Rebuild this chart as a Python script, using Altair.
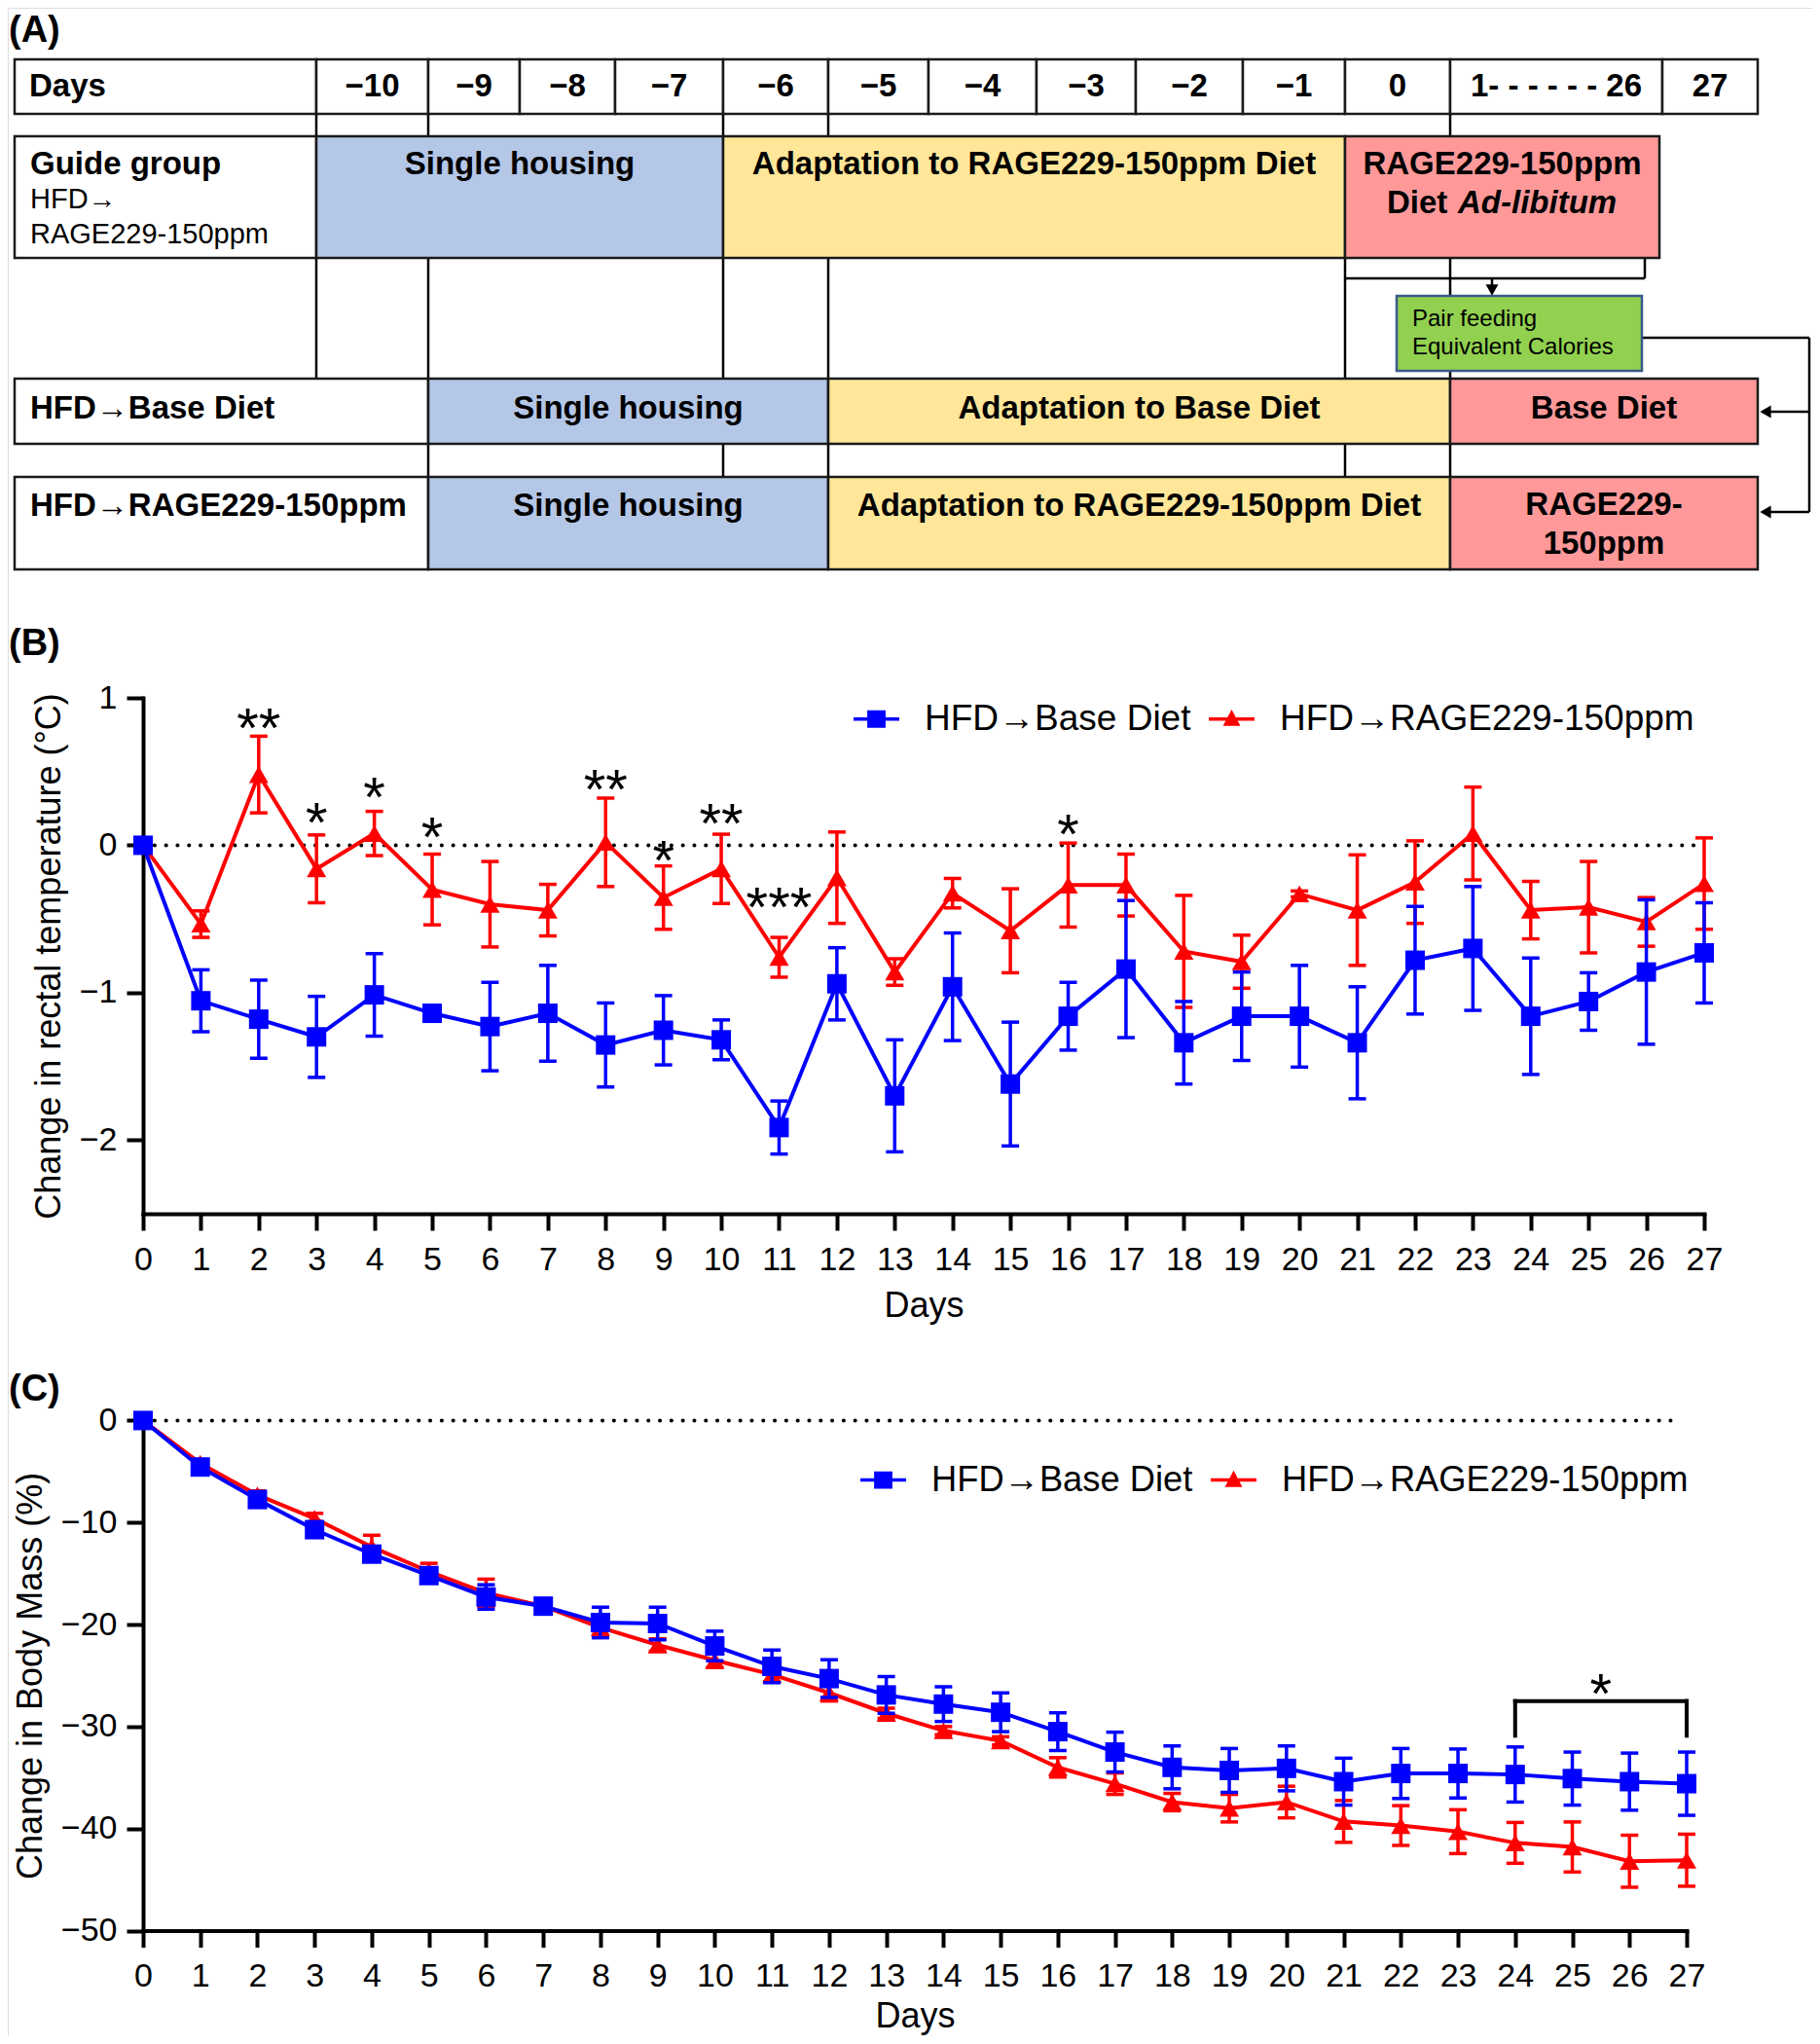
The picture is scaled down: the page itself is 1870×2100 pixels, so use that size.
import altair as alt
import pandas as pd

FONT = "Liberation Sans"
W, H = 1854, 2084          # whole drawing area (page minus 8px margins)
OX, OY = 8, 8              # page margin
BLUE = "#0000ff"
RED = "#ff0000"
GROUPS = ["HFD→Base Diet", "HFD→RAGE229-150ppm"]

days = list(range(28))

# ---------------- Panel B : change in rectal temperature (°C) ----------------
temp_base_mean = [0, -1.055, -1.18, -1.30, -1.015, -1.14, -1.23, -1.14, -1.355, -1.255,
                  -1.32, -1.915, -0.94, -1.70, -0.96, -1.62, -1.16, -0.84, -1.34, -1.16,
                  -1.16, -1.34, -0.78, -0.70, -1.16, -1.06, -0.86, -0.73]
temp_base_sem = [0, 0.21, 0.265, 0.275, 0.28, 0.04, 0.30, 0.325, 0.285, 0.235,
                 0.135, 0.18, 0.245, 0.38, 0.365, 0.42, 0.23, 0.465, 0.28, 0.30,
                 0.345, 0.38, 0.365, 0.42, 0.395, 0.195, 0.49, 0.34]
temp_rage_mean = [0, -0.535, 0.48, -0.16, 0.08, -0.30, -0.40, -0.44, 0.02, -0.355,
                  -0.16, -0.76, -0.22, -0.86, -0.325, -0.58, -0.27, -0.27, -0.72, -0.79,
                  -0.33, -0.44, -0.25, 0.08, -0.44, -0.42, -0.52, -0.26]
temp_rage_sem = [0, 0.09, 0.26, 0.23, 0.15, 0.24, 0.29, 0.175, 0.30, 0.215,
                 0.235, 0.135, 0.31, 0.09, 0.10, 0.285, 0.285, 0.21, 0.38, 0.18,
                 0.02, 0.375, 0.28, 0.315, 0.195, 0.31, 0.165, 0.31]
temp_star_day = [2, 3, 4, 5, 8, 9, 10, 11, 16]
temp_star_text = ["**", "*", "*", "*", "**", "*", "**", "***", "*"]
temp_star_y = [0.89, 0.25, 0.42, 0.145, 0.47, -0.01, 0.24, -0.33, 0.165]

# ---------------- Panel C : change in body mass (%) ----------------
mass_base_mean = [0, -4.56, -7.75, -10.7, -13.1, -15.2, -17.3, -18.2, -19.8, -19.9,
                  -22.1, -24.1, -25.3, -26.9, -27.8, -28.6, -30.5, -32.5, -34.0, -34.3,
                  -34.1, -35.4, -34.6, -34.6, -34.7, -35.1, -35.4, -35.6]
mass_base_sem = [0, 0.5, 0.5, 0.6, 0.6, 0.6, 1.2, 0.6, 1.5, 1.6,
                 1.45, 1.6, 1.85, 1.8, 1.7, 1.9, 1.85, 1.95, 2.1, 2.15,
                 2.2, 2.3, 2.45, 2.4, 2.7, 2.6, 2.8, 3.1]
mass_rage_mean = [0, -4.2, -7.3, -9.6, -12.4, -14.8, -16.9, -18.2, -20.3, -22.0,
                  -23.5, -24.9, -26.7, -28.7, -30.4, -31.4, -34.0, -35.6, -37.4, -38.0,
                  -37.4, -39.3, -39.7, -40.3, -41.4, -41.8, -43.2, -43.1]
mass_rage_sem = [0, 0.3, 0.4, 0.5, 1.15, 0.8, 1.35, 0.5, 0.8, 0.6,
                 0.7, 0.7, 0.8, 0.5, 0.4, 0.4, 0.95, 1.05, 0.85, 1.35,
                 1.55, 2.05, 1.95, 2.15, 2.0, 2.45, 2.55, 2.55]
mass_bracket_days = [24, 27]
mass_bracket_top = -27.5
mass_bracket_leg = -30.9
mass_star_day = [25.5]
mass_star_text = ["*"]
mass_star_y = [-25.4]

# ---------------- Panel A : schedule diagram ----------------
col_edges = [15, 325, 440, 534, 632, 743, 851, 954, 1065, 1167, 1277, 1382, 1490, 1708, 1806]
header_labels = ["Days", "−10", "−9", "−8", "−7", "−6", "−5", "−4", "−3", "−2", "−1",
                 "0", "1- - - - - - 26", "27"]
header_y = (61, 117)
guide_y = (140, 265)
base_y = (389, 456)
rage_y = (490, 585)
pair_box = (1435, 1687, 304, 381)

kind_names = ["label", "single", "adapt", "diet"]
kind_colors = ["#ffffff", "#b4c7e7", "#ffe699", "#ff9999"]


# =====================================================================
def long_table(bm, bs, rm, rs):
    rows = []
    for g, m, s in [(GROUPS[0], bm, bs), (GROUPS[1], rm, rs)]:
        for d, mm, ss in zip(days, m, s):
            rows.append(dict(day=d, group=g, mean=mm, lo=mm - ss, hi=mm + ss, sem=ss))
    return pd.DataFrame(rows)


SQ_PATH = "M-1,-0.075L1,-0.075L1,0.075L-1,0.075Z M-0.4,-0.38L0.4,-0.38L0.4,0.38L-0.4,0.38Z"
TRI_PATH = "M-1,-0.075L1,-0.075L1,0.075L-1,0.075Z M0,-0.42L0.38,0.3L-0.38,0.3Z"

AXIS_STYLE = dict(domainColor="black", domainWidth=4, domainCap="square",
                  tickColor="black", tickWidth=4, tickSize=17,
                  labelFont=FONT, labelFontSize=34, labelColor="black",
                  titleFont=FONT, titleFontSize=36, titleFontWeight="normal",
                  titleColor="black", grid=False, labelOverlap=False)


def series_panel(df, xs, ys, xaxis, yaxis, legend_xy, legend_fs, zero_x2, stars, extra=None):
    X = alt.X("day:Q", scale=xs, axis=xaxis)

    def Y(f):
        return alt.Y(f, scale=ys, axis=yaxis)

    layers = []
    zero_df = pd.DataFrame({"x0": [0], "x1": [zero_x2], "y0": [0]})
    layers.append(
        alt.Chart(zero_df).mark_rule(color="black", strokeWidth=4, strokeDash=[0.1, 11.7],
                                     strokeCap="round")
        .encode(x=alt.X("x0:Q", scale=xs, axis=xaxis), x2="x1:Q", y=Y("y0:Q"))
    )
    for g, col, shp in [(GROUPS[1], RED, "triangle-up"), (GROUPS[0], BLUE, "square")]:
        sub = alt.Chart(df).transform_filter(alt.datum.group == g)
        err = sub.transform_filter(alt.datum.sem > 0)
        layers.append(err.mark_rule(color=col, strokeWidth=3.5)
                      .encode(x=X, y=Y("lo:Q"), y2="hi:Q"))
        layers.append(err.transform_fold(["lo", "hi"], as_=["end", "v"])
                      .mark_tick(color=col, orient="horizontal", size=18, thickness=3.5, opacity=1)
                      .encode(x=X, y=Y("v:Q")))
        layers.append(sub.mark_line(color=col, strokeWidth=4).encode(x=X, y=Y("mean:Q")))
        layers.append(sub.mark_point(filled=True, shape=shp, size=400, color=col, opacity=1)
                      .encode(x=X, y=Y("mean:Q")))
    if extra is not None:
        layers.extend(extra)
    sdf = pd.DataFrame({"day": stars[0], "label": stars[1], "y": stars[2]})
    layers.append(alt.Chart(sdf).mark_text(font=FONT, fontSize=58, color="black",
                                           baseline="alphabetic", dy=34)
                  .encode(x=alt.X("day:Q", scale=xs, axis=xaxis), y=Y("y:Q"), text="label:N"))
    leg = alt.Legend(orient="none", legendX=legend_xy[0], legendY=legend_xy[1],
                     direction="horizontal", title=None, labelFont=FONT, labelFontSize=legend_fs,
                     labelColor="black", labelLimit=900, symbolSize=2209,
                     symbolStrokeWidth=0, labelOffset=26, columnPadding=18, padding=0,
                     symbolOpacity=1)
    layers.append(
        alt.Chart(df).transform_filter("false").mark_point(filled=True, size=2209, opacity=1)
        .encode(color=alt.Color("group:N", scale=alt.Scale(domain=GROUPS, range=[BLUE, RED]),
                                legend=leg),
                shape=alt.Shape("group:N", scale=alt.Scale(domain=GROUPS, range=[SQ_PATH, TRI_PATH]),
                                legend=leg))
    )
    return alt.layer(*layers)


# ---------------- Panel B ----------------
dfB = long_table(temp_base_mean, temp_base_sem, temp_rage_mean, temp_rage_sem)
xB = alt.Scale(domain=[0, 27], range=[147 - OX, 1751 - OX], nice=False, zero=False)
yB = alt.Scale(domain=[-2.5, 1], range=[1247 - OY, 717 - OY], nice=False, zero=False)
xaxB = alt.Axis(orient="bottom", offset=(1247 - OY) - H, values=days, title="Days",
                labelPadding=13, titlePadding=13, labelAngle=0, labelFlush=False, **AXIS_STYLE)
yaxB = alt.Axis(orient="left", offset=-(147 - OX), values=[1, 0, -1, -2], format="d",
                title="Change in rectal temperature (°C)", labelPadding=10, titlePadding=12,
                **AXIS_STYLE)
panelB = series_panel(dfB, xB, yB, xaxB, yaxB, (877 - OX, 715 - OY), 37, 26.9,
                      (temp_star_day, temp_star_text, temp_star_y))

# ---------------- Panel C ----------------
dfC = long_table(mass_base_mean, mass_base_sem, mass_rage_mean, mass_rage_sem)
xC = alt.Scale(domain=[0, 27], range=[147 - OX, 1733 - OX], nice=False, zero=False)
yC = alt.Scale(domain=[-50, 0], range=[1983.5 - OY, 1459.4 - OY], nice=False, zero=False)
xaxC = alt.Axis(orient="bottom", offset=(1983.5 - OY) - H, values=days, title="Days",
                labelPadding=13, titlePadding=7, labelAngle=0, labelFlush=False, **AXIS_STYLE)
yaxC = alt.Axis(orient="left", offset=-(147 - OX), values=[0, -10, -20, -30, -40, -50],
                format="d", title="Change in Body Mass (%)", labelPadding=10, titlePadding=12,
                **AXIS_STYLE)
br_df = pd.DataFrame({
    "x0": [mass_bracket_days[0], mass_bracket_days[0], mass_bracket_days[1]],
    "x1": [mass_bracket_days[1], mass_bracket_days[0], mass_bracket_days[1]],
    "y0": [mass_bracket_top, mass_bracket_top, mass_bracket_top],
    "y1": [mass_bracket_top, mass_bracket_leg, mass_bracket_leg],
})
bracket = alt.Chart(br_df).mark_rule(color="black", strokeWidth=4, strokeCap="square").encode(
    x=alt.X("x0:Q", scale=xC, axis=xaxC), x2="x1:Q",
    y=alt.Y("y0:Q", scale=yC, axis=yaxC), y2="y1:Q")
panelC = series_panel(dfC, xC, yC, xaxC, yaxC, (884 - OX, 1497 - OY), 36.3, 26.85,
                      (mass_star_day, mass_star_text, mass_star_y), extra=[bracket])

# ---------------- Panel A ----------------
XA = alt.Scale(domain=[OX, OX + W], range=[0, W], nice=False, zero=False)
YA = alt.Scale(domain=[OY, OY + H], range=[0, H], nice=False, zero=False)
E = col_edges
RIGHT_X = 1859

rects = []
for i in range(len(header_labels)):
    rects.append(dict(x0=E[i], x1=E[i + 1], y0=header_y[0], y1=header_y[1], kind="label"))
for (ya, yb), spans in [
    (guide_y, [(E[0], E[1], "label"), (E[1], E[5], "single"), (E[5], E[11], "adapt"), (E[11], 1705, "diet")]),
    (base_y, [(E[0], E[2], "label"), (E[2], E[6], "single"), (E[6], E[12], "adapt"), (E[12], E[14], "diet")]),
    (rage_y, [(E[0], E[2], "label"), (E[2], E[6], "single"), (E[6], E[12], "adapt"), (E[12], E[14], "diet")]),
]:
    for a, b, k in spans:
        rects.append(dict(x0=a, x1=b, y0=ya, y1=yb, kind=k))
rect_df = pd.DataFrame(rects)

segs = []
for c in [1, 2, 5, 6, 12]:
    segs.append((E[c], header_y[1], E[c], guide_y[0]))
for c in [1, 2, 5, 6, 11, 12]:
    segs.append((E[c], guide_y[1], E[c], base_y[0]))
for c in [2, 5, 6, 11, 12]:
    segs.append((E[c], base_y[1], E[c], rage_y[0]))
segs += [(E[11], 286, 1690, 286), (1690, guide_y[1], 1690, 286), (1533, 286, 1533, 296),
         (pair_box[1], 347, RIGHT_X, 347), (RIGHT_X, 347, RIGHT_X, 526),
         (RIGHT_X, 423, 1818, 423), (RIGHT_X, 526, 1818, 526)]
seg_df = pd.DataFrame(segs, columns=["x0", "y0", "x1", "y1"])
heads_df = pd.DataFrame({"x": [1533, 1814, 1814], "y": [298, 423, 526],
                         "shape": ["triangle-down", "triangle-left", "triangle-left"]})

texts = []
texts.append(("Days", 30, 89, "left", "bold", "normal", 33))
for i in range(1, len(header_labels)):
    texts.append((header_labels[i], (E[i] + E[i + 1]) / 2, 89, "center", "bold", "normal", 33))
texts += [
    ("Guide group", 31, 169, "left", "bold", "normal", 33),
    ("HFD→", 31, 205, "left", "normal", "normal", 29),
    ("RAGE229-150ppm", 31, 241, "left", "normal", "normal", 29),
    ("Single housing", (E[1] + E[5]) / 2, 169, "center", "bold", "normal", 33),
    ("Adaptation to RAGE229-150ppm Diet", (E[5] + E[11]) / 2, 169, "center", "bold", "normal", 33),
    ("RAGE229-150ppm", (E[11] + 1705) / 2, 169, "center", "bold", "normal", 33),
    ("Diet", 1425, 209, "left", "bold", "normal", 33),
    ("Ad-libitum", 1498, 209, "left", "bold", "italic", 33),
    ("Pair feeding", 1451, 328, "left", "normal", "normal", 24),
    ("Equivalent Calories", 1451, 357, "left", "normal", "normal", 24),
    ("HFD→Base Diet", 31, 420, "left", "bold", "normal", 33),
    ("Single housing", (E[2] + E[6]) / 2, 420, "center", "bold", "normal", 33),
    ("Adaptation to Base Diet", (E[6] + E[12]) / 2, 420, "center", "bold", "normal", 33),
    ("Base Diet", (E[12] + E[14]) / 2, 420, "center", "bold", "normal", 33),
    ("HFD→RAGE229-150ppm", 31, 520, "left", "bold", "normal", 33),
    ("Single housing", (E[2] + E[6]) / 2, 520, "center", "bold", "normal", 33),
    ("Adaptation to RAGE229-150ppm Diet", (E[6] + E[12]) / 2, 520, "center", "bold", "normal", 33),
    ("RAGE229-", (E[12] + E[14]) / 2, 519, "center", "bold", "normal", 33),
    ("150ppm", (E[12] + E[14]) / 2, 559, "center", "bold", "normal", 33),
    ("(A)", 9, 32, "left", "bold", "normal", 38),
    ("(B)", 9, 662, "left", "bold", "normal", 38),
    ("(C)", 9, 1428, "left", "bold", "normal", 38),
]
text_df = pd.DataFrame(texts, columns=["text", "x", "y", "align", "weight", "style", "size"])

a_layers = [
    alt.Chart(seg_df).mark_rule(color="black", strokeWidth=2.5).encode(
        x=alt.X("x0:Q", scale=XA, axis=None), y=alt.Y("y0:Q", scale=YA, axis=None),
        x2="x1:Q", y2="y1:Q"),
    alt.Chart(rect_df).mark_rect(stroke="#1a1a1a", strokeWidth=2.5).encode(
        x=alt.X("x0:Q", scale=XA, axis=None), x2="x1:Q",
        y=alt.Y("y0:Q", scale=YA, axis=None), y2="y1:Q",
        fill=alt.Fill("kind:N", scale=alt.Scale(domain=kind_names, range=kind_colors), legend=None)),
    alt.Chart(pd.DataFrame({"x0": [pair_box[0]], "x1": [pair_box[1]],
                            "y0": [pair_box[2]], "y1": [pair_box[3]]}))
    .mark_rect(fill="#92d050", stroke="#3b5a8a", strokeWidth=2.5).encode(
        x=alt.X("x0:Q", scale=XA, axis=None), x2="x1:Q",
        y=alt.Y("y0:Q", scale=YA, axis=None), y2="y1:Q"),
]
for shp in ["triangle-down", "triangle-left"]:
    a_layers.append(
        alt.Chart(heads_df).transform_filter(alt.datum.shape == shp)
        .mark_point(shape=shp, filled=True, size=170, color="black", opacity=1)
        .encode(x=alt.X("x:Q", scale=XA, axis=None), y=alt.Y("y:Q", scale=YA, axis=None)))
for (al, wt, st), grp in text_df.groupby(["align", "weight", "style"]):
    a_layers.append(
        alt.Chart(grp).mark_text(font=FONT, align=al, fontWeight=wt, fontStyle=st,
                                 baseline="middle", color="black")
        .encode(x=alt.X("x:Q", scale=XA, axis=None), y=alt.Y("y:Q", scale=YA, axis=None),
                text="text:N", size=alt.Size("size:Q", scale=None)))
panelA = alt.layer(*a_layers)

chart = (
    alt.layer(panelA, panelB, panelC)
    .resolve_scale(x="independent", y="independent", color="independent",
                   shape="independent", fill="independent")
    .resolve_axis(x="independent", y="independent")
    .resolve_legend(color="independent", shape="independent")
    .properties(width=W, height=H, padding=0,
                autosize=alt.AutoSizeParams(type="none"))
    .configure_view(stroke=None)
    .configure(background="white")
)

chart.save("out.html", embed_options={"renderer": "svg", "actions": False})
